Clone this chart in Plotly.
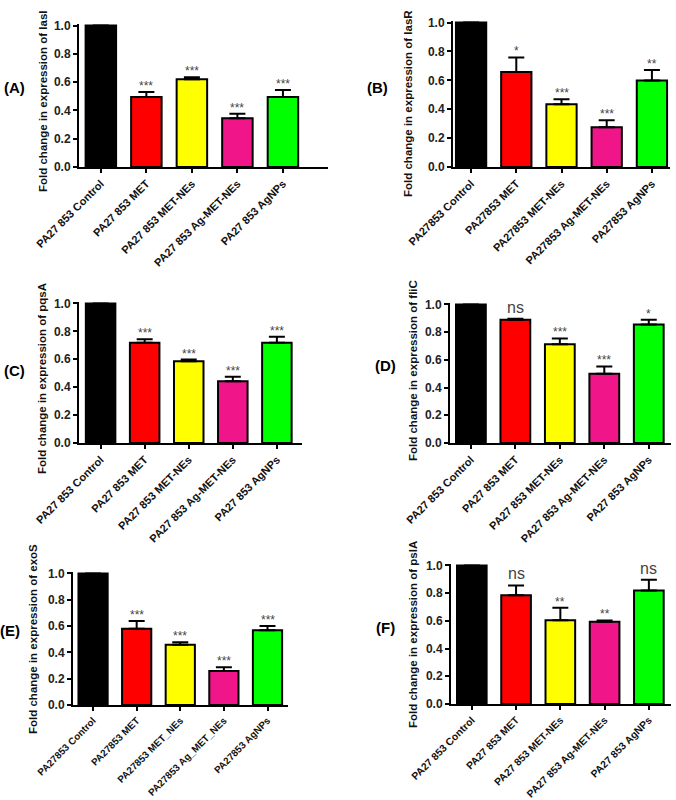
import plotly.graph_objects as go

# ---------------- data ----------------
panel_letters = ["(A)", "(B)", "(C)", "(D)", "(E)", "(F)"]
genes = ["lasI", "lasR", "pqsA", "fliC", "exoS", "pslA"]

labels_A = ["PA27 853 Control", "PA27 853 MET", "PA27 853 MET-NEs", "PA27 853 Ag-MET-NEs", "PA27 853 AgNPs"]
labels_B = ["PA27853 Control", "PA27853 MET", "PA27853 MET-NEs", "PA27853 Ag-MET-NEs", "PA27853 AgNPs"]
labels_C = ["PA27 853 Control", "PA27 853 MET", "PA27 853 MET-NEs", "PA27 853 Ag-MET-NEs", "PA27 853 AgNPs"]
labels_D = ["PA27 853 Control", "PA27 853 MET", "PA27 853 MET-NEs", "PA27 853 Ag-MET-NEs", "PA27 853 AgNPs"]
labels_E = ["PA27853 Control", "PA27853 MET", "PA27853 MET_NEs", "PA27853 Ag_MET_NEs", "PA27853 AgNPs"]
labels_F = ["PA27 853 Control", "PA27 853 MET", "PA27 853 MET-NEs", "PA27 853 Ag-MET-NEs", "PA27 853 AgNPs"]

values_A = [1.0, 0.495, 0.62, 0.345, 0.495]
values_B = [1.0, 0.658, 0.434, 0.275, 0.598]
values_C = [1.0, 0.718, 0.586, 0.443, 0.718]
values_D = [1.0, 0.889, 0.712, 0.50, 0.856]
values_E = [1.0, 0.58, 0.458, 0.258, 0.567]
values_F = [1.0, 0.785, 0.605, 0.593, 0.82]

err_A = [0, 0.035, 0.015, 0.032, 0.05]
err_B = [0, 0.10, 0.035, 0.048, 0.074]
err_C = [0, 0.026, 0.012, 0.031, 0.043]
err_D = [0, 0.008, 0.043, 0.053, 0.033]
err_E = [0, 0.058, 0.018, 0.028, 0.033]
err_F = [0, 0.071, 0.089, 0.010, 0.077]

sig_A = ["", "***", "***", "***", "***"]
sig_B = ["", "*", "***", "***", "**"]
sig_C = ["", "***", "***", "***", "***"]
sig_D = ["", "ns", "***", "***", "*"]
sig_E = ["", "***", "***", "***", "***"]
sig_F = ["", "ns", "**", "**", "ns"]

bar_colors = ["#000000", "#FF0000", "#FFFF00", "#F0168A", "#00FF00"]

# ---------------- layout geometry (window pixels) ----------------
W, H = 676, 800
geom = [
    dict(x0=79, x1=328, yb=167, yt=25, xr=[-0.48, 4.99], lx=14, ly=87, tx=43, ty=102, lf=11),
    dict(x0=453, x1=670, yb=167, yt=22, xr=[-0.40, 4.40], lx=377, ly=87, tx=408, ty=104, lf=11),
    dict(x0=79, x1=302, yb=443, yt=303, xr=[-0.49, 4.57], lx=14, ly=370, tx=42, ty=379, lf=11),
    dict(x0=450, x1=671, yb=443, yt=304, xr=[-0.47, 4.50], lx=385, ly=365, tx=413, ty=370, lf=11),
    dict(x0=73, x1=288, yb=705, yt=573, xr=[-0.46, 4.47], lx=10, ly=630, tx=33, ty=639, lf=9.8),
    dict(x0=451, x1=671, yb=704, yt=565, xr=[-0.47, 4.50], lx=385, ly=627, tx=413, ty=634, lf=10.3),
]


def px(x):
    return x / W


def py(y):
    return 1 - y / H


panels = [
    (labels_A, values_A, err_A, sig_A),
    (labels_B, values_B, err_B, sig_B),
    (labels_C, values_C, err_C, sig_C),
    (labels_D, values_D, err_D, sig_D),
    (labels_E, values_E, err_E, sig_E),
    (labels_F, values_F, err_F, sig_F),
]

FONT = "Liberation Sans, Arial, sans-serif"
fig = go.Figure()
annotations = []

for i, ((labels, vals, errs, sigs), g) in enumerate(zip(panels, geom)):
    n = "" if i == 0 else str(i + 1)
    xa, ya = "x" + n, "y" + n
    fig.add_trace(go.Bar(
        x=labels, y=vals, xaxis=xa, yaxis=ya,
        marker=dict(color=bar_colors, line=dict(color="black", width=2)),
        width=0.67,
        error_y=dict(type="data", array=errs, arrayminus=[0] * len(errs),
                     symmetric=False, color="black", thickness=2, width=8),
        showlegend=False, hoverinfo="skip",
    ))
    xdom = [px(g["x0"]), min(1, px(g["x1"]))]
    ydom = [py(g["yb"]), min(1, py(g["yt"]) + 0.0015)]
    fig.update_layout(**{
        ("xaxis" + n): dict(
            domain=xdom, anchor=ya, type="category", range=g["xr"],
            automargin=False,
            showline=True, linecolor="black", linewidth=2,
            ticks="outside", ticklen=4, tickwidth=2, tickcolor="black",
            tickangle=-45,
            tickfont=dict(family=FONT, size=g["lf"], color="#111111", weight="bold"),
            showgrid=False, zeroline=False, fixedrange=True,
        ),
        ("yaxis" + n): dict(
            domain=ydom, anchor=xa, range=[0, 1.012], automargin=False,
            tickvals=[0, 0.2, 0.4, 0.6, 0.8, 1.0], tickformat=".1f",
            showline=True, linecolor="black", linewidth=2,
            ticks="outside", ticklen=4, tickwidth=2, tickcolor="black",
            tickfont=dict(family=FONT, size=12, color="#222222", weight="bold"),
            showgrid=False, zeroline=False, fixedrange=True,
        ),
    })
    for lab, v, e, s in zip(labels, vals, errs, sigs):
        if not s:
            continue
        is_ns = s == "ns"
        annotations.append(dict(
            x=lab, y=v + e, xref=xa, yref=ya, text=s, showarrow=False,
            xanchor="center", yanchor="bottom",
            yshift=1 if is_ns else -3,
            font=dict(family=FONT, size=16 if is_ns else 12, color="#444444"),
        ))
    annotations.append(dict(
        x=px(g["lx"]), y=py(g["ly"]), xref="paper", yref="paper",
        text=panel_letters[i], showarrow=False, xanchor="center", yanchor="middle",
        font=dict(family=FONT, size=15, color="black", weight="bold"),
    ))
    annotations.append(dict(
        x=px(g["tx"]), y=py(g["ty"]), xref="paper", yref="paper",
        text="Fold change in expression of " + genes[i], showarrow=False,
        textangle=-90, xanchor="center", yanchor="middle",
        font=dict(family=FONT, size=11.5, color="#111111", weight="bold"),
    ))

fig.update_layout(
    template="none",
    width=W, height=H, margin=dict(l=0, r=0, t=0, b=0, autoexpand=False),
    paper_bgcolor="white", plot_bgcolor="white",
    annotations=annotations, bargap=0.33, showlegend=False,
)

fig.write_html(
    "out.html",
    config={"displayModeBar": False, "staticPlot": True},
    post_script="document.body.style.margin='0px';document.body.style.overflow='hidden';",
)
